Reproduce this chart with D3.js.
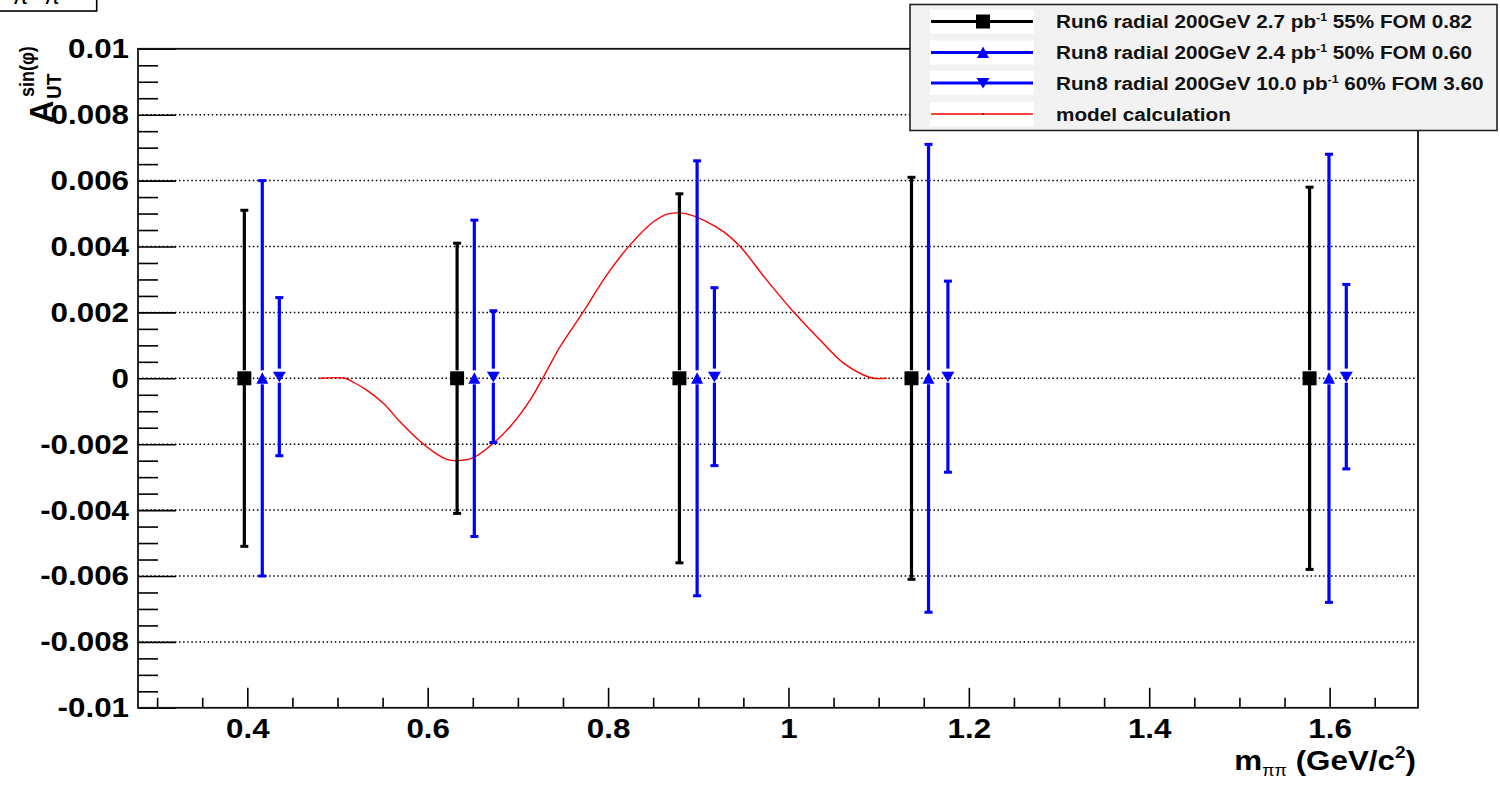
<!DOCTYPE html>
<html><head><meta charset="utf-8">
<script src="https://cdn.jsdelivr.net/npm/d3@7"></script>
<style>body{margin:0;background:#fff}svg{display:block}</style>
</head><body>
<script>
// ---------- data ----------
const run6X   = [0.3967, 0.6326, 0.8791, 1.1364, 1.5778];
const run6Y   = [0, 0, 0, 0, 0];
const run6Err = [0.0051, 0.0041, 0.0056, 0.0061, 0.0058];

const run8aX   = [0.4166, 0.6517, 0.8987, 1.1553, 1.5993];
const run8aY   = [0, 0, 0, 0, 0];
const run8aErr = [0.0060, 0.0048, 0.0066, 0.0071, 0.0068];

const run8bX   = [0.4355, 0.6728, 0.9179, 1.1768, 1.6185];
const run8bY   = [0.00005, 0.00005, 0.00005, 0.00005, 0.00005];
const run8bErr = [0.0024, 0.0020, 0.0027, 0.0029, 0.0028];

const modelX = [0.4806,0.5084,0.5176,0.5324,0.5508,0.5693,0.5878,0.6063,0.6211,0.634,0.6506,0.6728,0.6913,0.7135,0.7275,0.7468,0.7726,0.7986,0.8244,0.8503,0.8669,0.8873,0.9095,0.928,0.9464,0.9759,1.0055,1.0351,1.061,1.0832,1.0942,1.109];
const modelY = [0,0,-0.00012,-0.00036,-0.00076,-0.00132,-0.00182,-0.00223,-0.00246,-0.0025,-0.00241,-0.00197,-0.00147,-0.00066,0,0.00096,0.00202,0.00314,0.00405,0.00475,0.00499,0.00499,0.00475,0.00445,0.004,0.00298,0.00202,0.00116,0.00046,0.0001,0,0];

const xMajorTicks = [0.4, 0.6, 0.8, 1.0, 1.2, 1.4, 1.6];
const xTickLabels = ["0.4","0.6","0.8","1","1.2","1.4","1.6"];
const xMinorTicks = [0.3,0.35,0.45,0.5,0.55,0.65,0.7,0.75,0.85,0.9,0.95,1.05,1.1,1.15,1.25,1.3,1.35,1.45,1.5,1.55,1.65];
const yMajorTicks = [-0.01,-0.008,-0.006,-0.004,-0.002,0,0.002,0.004,0.006,0.008,0.01];
const yTickLabels = ["-0.01","-0.008","-0.006","-0.004","-0.002","0","0.002","0.004","0.006","0.008","0.01"];
const yGridTicks  = [-0.008,-0.006,-0.004,-0.002,0,0.002,0.004,0.006,0.008];
const yMinorTicks = [-0.0095,-0.009,-0.0085,-0.0075,-0.007,-0.0065,-0.0055,-0.005,-0.0045,-0.0035,-0.003,-0.0025,-0.0015,-0.001,-0.0005,0.0005,0.001,0.0015,0.0025,0.003,0.0035,0.0045,0.005,0.0055,0.0065,0.007,0.0075,0.0085,0.009,0.0095];

const legendPre  = ["Run6 radial 200GeV 2.7 pb", "Run8 radial 200GeV 2.4 pb", "Run8 radial 200GeV 10.0 pb", "model calculation"];
const legendSup  = ["-1", "-1", "-1", ""];
const legendPost = [" 55% FOM 0.82", " 50% FOM 0.60", " 60% FOM 3.60", ""];

// ---------- layout ----------
const W = 1500, H = 786;
const L = 138, R = 1418, T = 48.8, B = 707.8;
const SX = 1.12;
const FONT = "'Liberation Sans', Arial, Helvetica, sans-serif";

const svg = d3.select("body").append("svg").attr("width", W).attr("height", H)
  .style("font-family", FONT);
svg.append("rect").attr("width", W).attr("height", H).attr("fill", "#fff");

const x = d3.scaleLinear().domain([0.2788, 1.698]).range([L, R]);
const y = d3.scaleLinear().domain([-0.01, 0.01]).range([B, T]);

// grid
svg.append("g").selectAll("line").data(yGridTicks).join("line")
  .attr("x1", L).attr("x2", R).attr("y1", d => y(d)).attr("y2", d => y(d))
  .attr("stroke", "#000").attr("stroke-width", 1.5).attr("stroke-dasharray", "1.5,2.6");

// axes
function styleAxis(g) {
  g.select(".domain").remove();
  g.selectAll(".tick line").attr("stroke", "#000").attr("stroke-width", 1.6);
  g.selectAll(".tick text").attr("fill", "#000").style("font-size", "28px")
    .style("font-weight", "bold").style("font-family", FONT)
    .attr("transform", `scale(${SX},1)`);
}
svg.append("g").attr("transform", `translate(0,${B})`)
  .call(d3.axisBottom(x).tickValues(xMajorTicks).tickSize(-20).tickPadding(10)
    .tickFormat((d, i) => xTickLabels[i])).call(styleAxis);
svg.append("g").attr("transform", `translate(0,${B})`)
  .call(d3.axisBottom(x).tickValues(xMinorTicks).tickSize(-10).tickFormat("")).call(styleAxis);
svg.append("g").attr("transform", `translate(${L},0)`)
  .call(d3.axisLeft(y).tickValues(yMajorTicks).tickSize(-38).tickPadding(8)
    .tickFormat((d, i) => yTickLabels[i])).call(styleAxis);
svg.append("g").attr("transform", `translate(${L},0)`)
  .call(d3.axisLeft(y).tickValues(yMinorTicks).tickSize(-20).tickFormat("")).call(styleAxis);

// model curve
svg.append("path").datum(modelX.map((d, i) => [d, modelY[i]]))
  .attr("d", d3.line().x(d => x(d[0])).y(d => y(d[1])).curve(d3.curveCatmullRom.alpha(0.5)))
  .attr("fill", "none").attr("stroke", "#ff0000").attr("stroke-width", 1.4);

// markers
const sq = "M-7,-7h14v14h-14z";
const up = "M0,-6L6,5.5L-6,5.5z";
const dn = "M0,5.5L6.5,-5L-6.5,-5z";

function series(xs, ys, es, color, shape) {
  const g = svg.append("g");
  const pts = xs.map((d, i) => ({x: d, y: ys[i], e: es[i]}));
  g.selectAll(".top").data(pts).join("line")
    .attr("x1", d => x(d.x)).attr("x2", d => x(d.x))
    .attr("y1", d => y(d.y + d.e)).attr("y2", d => y(d.y) - 8)
    .attr("stroke", color).attr("stroke-width", 3.2);
  g.selectAll(".bot").data(pts).join("line")
    .attr("x1", d => x(d.x)).attr("x2", d => x(d.x))
    .attr("y1", d => y(d.y) + 6).attr("y2", d => y(d.y - d.e))
    .attr("stroke", color).attr("stroke-width", 3.2);
  [1, -1].forEach(s => {
    g.selectAll(".cap" + s).data(pts).join("line")
      .attr("x1", d => x(d.x) - 4).attr("x2", d => x(d.x) + 4)
      .attr("y1", d => y(d.y + s * d.e)).attr("y2", d => y(d.y + s * d.e))
      .attr("stroke", color).attr("stroke-width", 3);
  });
  g.selectAll("path").data(pts).join("path")
    .attr("d", shape).attr("transform", d => `translate(${x(d.x)},${y(d.y)})`)
    .attr("fill", color);
}
series(run6X, run6Y, run6Err, "#000", sq);
series(run8aX, run8aY, run8aErr, "#0000ff", up);
series(run8bX, run8bY, run8bErr, "#0000ff", dn);

// frame
svg.append("rect").attr("x", L).attr("y", T).attr("width", R - L).attr("height", B - T)
  .attr("fill", "none").attr("stroke", "#111").attr("stroke-width", 1.8);

// x title
const xt = svg.append("text").attr("transform", `translate(1416,770) scale(${SX},1)`)
  .attr("text-anchor", "end").style("font-size", "28px").style("font-weight", "bold");
xt.append("tspan").text("m");
xt.append("tspan").text("ππ").style("font-size", "16px").style("font-weight", "normal").attr("dy", 6);
xt.append("tspan").text(" (GeV/c").attr("dy", -6);
xt.append("tspan").text("2").style("font-size", "17px").attr("dy", -12);
xt.append("tspan").text(")").attr("dy", 12);

// y title
const yt = svg.append("g").attr("transform", "translate(53,123) rotate(-90) scale(1,1.1)");
yt.append("text").attr("x", 0).attr("y", 0).text("A").style("font-size", "31px").style("font-weight", "bold");
yt.append("text").attr("x", 24).attr("y", 7).text("UT").style("font-size", "19px").style("font-weight", "bold");
yt.append("text").attr("x", 26).attr("y", -17).text("sin(φ)").style("font-size", "18px").style("font-weight", "bold");

// top-left label box (partly outside the page, as in the original)
svg.append("rect").attr("x", -2).attr("y", -30).attr("width", 98.7).attr("height", 41)
  .attr("fill", "#fff").attr("stroke", "#000").attr("stroke-width", 1.6);
const pl = svg.append("text").attr("x", 13).attr("y", 4).style("font-size", "24px").style("font-style", "italic");
pl.append("tspan").text("π");
pl.append("tspan").text("+").style("font-size", "15px").attr("dy", -10);
pl.append("tspan").text(" π").attr("dy", 10);
pl.append("tspan").text("−").style("font-size", "15px").attr("dy", -10);

// legend
const lg = svg.append("g");
lg.append("rect").attr("x", 910).attr("y", 4.5).attr("width", 587).attr("height", 126)
  .attr("fill", "#f2f2f2").attr("stroke", "#222").attr("stroke-width", 1.6);
const rowsY = [21.5, 52.5, 83, 114];
const legColors = ["#000", "#0000ff", "#0000ff", "#ff0000"];
const legShapes = [sq, up, dn, null];
legendPre.forEach((t, i) => {
  const cy = rowsY[i];
  lg.append("rect").attr("x", 930).attr("y", cy - 12).attr("width", 104).attr("height", 24).attr("fill", "#fff");
  lg.append("line").attr("x1", 931).attr("x2", 1033).attr("y1", cy).attr("y2", cy)
    .attr("stroke", legColors[i]).attr("stroke-width", i < 3 ? 3 : 1.4);
  if (legShapes[i]) lg.append("path").attr("d", legShapes[i]).attr("transform", `translate(983,${cy})`).attr("fill", legColors[i]);
  else lg.append("circle").attr("cx", 983).attr("cy", cy).attr("r", 0.8).attr("fill", "#000");
  const tx = lg.append("text").attr("transform", `translate(1056,${cy + 6.5}) scale(${SX},1)`)
    .style("font-size", "18.5px").style("font-weight", "bold").attr("fill", "#111");
  tx.append("tspan").text(t);
  if (legendSup[i]) {
    tx.append("tspan").text(legendSup[i]).style("font-size", "11px").attr("dy", -7);
    tx.append("tspan").text(legendPost[i]).attr("dy", 7);
  }
});
</script>
</body></html>
